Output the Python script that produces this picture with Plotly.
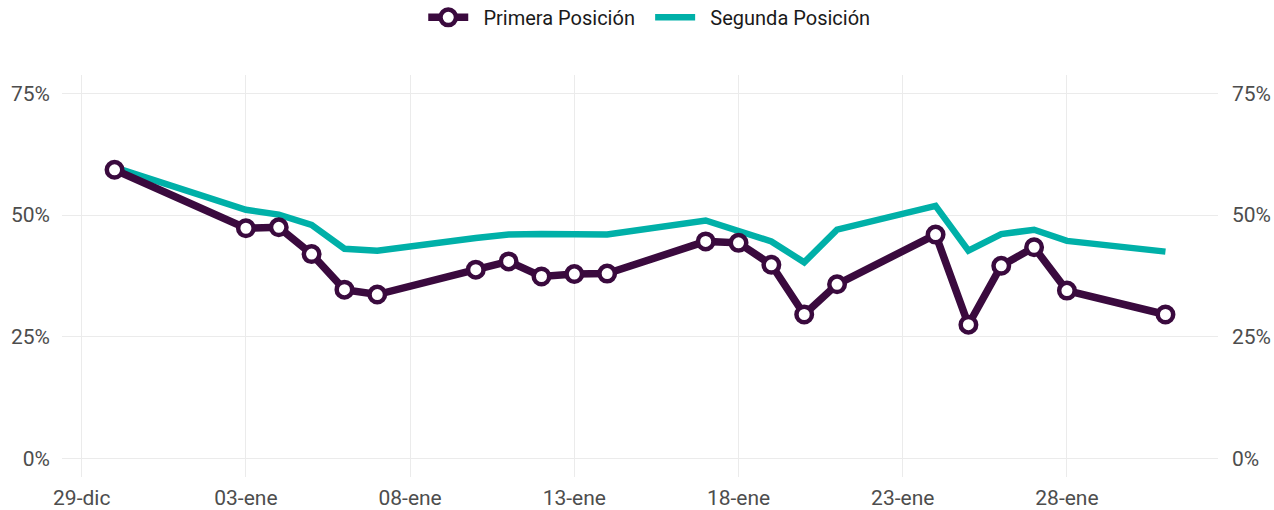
import plotly.graph_objects as go
import pandas as pd

dates = ["2021-12-30", "2022-01-03", "2022-01-04", "2022-01-05", "2022-01-06", "2022-01-07",
         "2022-01-10", "2022-01-11", "2022-01-12", "2022-01-13", "2022-01-14",
         "2022-01-17", "2022-01-18", "2022-01-19", "2022-01-20", "2022-01-21",
         "2022-01-24", "2022-01-25", "2022-01-26", "2022-01-27", "2022-01-28", "2022-01-31"]
primera = [59.3, 47.3, 47.5, 42.0, 34.7, 33.7,
           38.8, 40.5, 37.4, 37.9, 38.0,
           44.6, 44.3, 39.8, 29.6, 35.8,
           46.0, 27.5, 39.6, 43.4, 34.5, 29.6]
segunda = [59.8, 51.1, 50.1, 48.0, 43.1, 42.7,
           45.3, 46.0, 46.1, 46.1, 46.0,
           48.9, 46.8, 44.6, 40.3, 47.0,
           51.9, 42.7, 46.1, 47.0, 44.7, 42.5]
x_ticks = ["2021-12-29", "2022-01-03", "2022-01-08", "2022-01-13", "2022-01-18", "2022-01-23", "2022-01-28"]
x_tick_labels = ["29-dic", "03-ene", "08-ene", "13-ene", "18-ene", "23-ene", "28-ene"]
y_ticks = [0, 25, 50, 75]
y_tick_labels = ["0%", "25%", "50%", "75%"]

x = pd.to_datetime(dates)
PURPLE = "#3a0a3e"
TEAL = "#00b0a8"

fig = go.Figure()
fig.add_trace(go.Scatter(
    x=x, y=segunda, name="\u2002Segunda Posición", mode="lines",
    line=dict(color=TEAL, width=6.5)))
fig.add_trace(go.Scatter(
    x=x, y=primera, name="\u2002Primera Posición\u2002", mode="lines+markers",
    line=dict(color=PURPLE, width=7.5),
    marker=dict(size=15.5, color="white", line=dict(color=PURPLE, width=4.5))))
# invisible trace for the right axis
fig.add_trace(go.Scatter(x=x, y=primera, yaxis="y2", mode="lines",
                         line=dict(width=0), showlegend=False, hoverinfo="skip"))

xr = [pd.Timestamp("2021-12-28 09:36"), pd.Timestamp("2022-02-01 14:24")]
yr = [-3.75, 78.75]
font = dict(family="Roboto", size=21, color="#4d4d4d")
fig.update_layout(
    width=1274, height=510,
    margin=dict(l=62, r=56, t=75, b=33),
    paper_bgcolor="white", plot_bgcolor="white",
    font=dict(family="Roboto", size=16, color="#222222"),
    legend=dict(orientation="h", x=0.508, xanchor="center", yref="container", y=0.966, yanchor="middle",
                traceorder="reversed", font=dict(family="Roboto", size=20, color="#1a1a1a"),
                itemwidth=40),
    showlegend=True,
    xaxis=dict(range=xr, tickvals=pd.to_datetime(x_ticks), ticktext=x_tick_labels,
               showgrid=True, gridcolor="#ebebeb", gridwidth=1, zeroline=False,
               showline=False, ticks="", tickfont=font, ticklabelstandoff=6, automargin=False),
    yaxis=dict(range=yr, tickvals=y_ticks, ticktext=y_tick_labels,
               showgrid=True, gridcolor="#ebebeb", gridwidth=1, zeroline=False,
               showline=False, ticks="", tickfont=font, ticklabelstandoff=11, automargin=False),
    yaxis2=dict(range=yr, tickvals=y_ticks, ticktext=y_tick_labels, overlaying="y",
                side="right", showgrid=False, zeroline=False, showline=False,
                ticks="", tickfont=font, ticklabelstandoff=13, automargin=False),
)
fig.write_html("out.html", config={"displayModeBar": False},
               post_script="document.body.style.margin='0px';")
